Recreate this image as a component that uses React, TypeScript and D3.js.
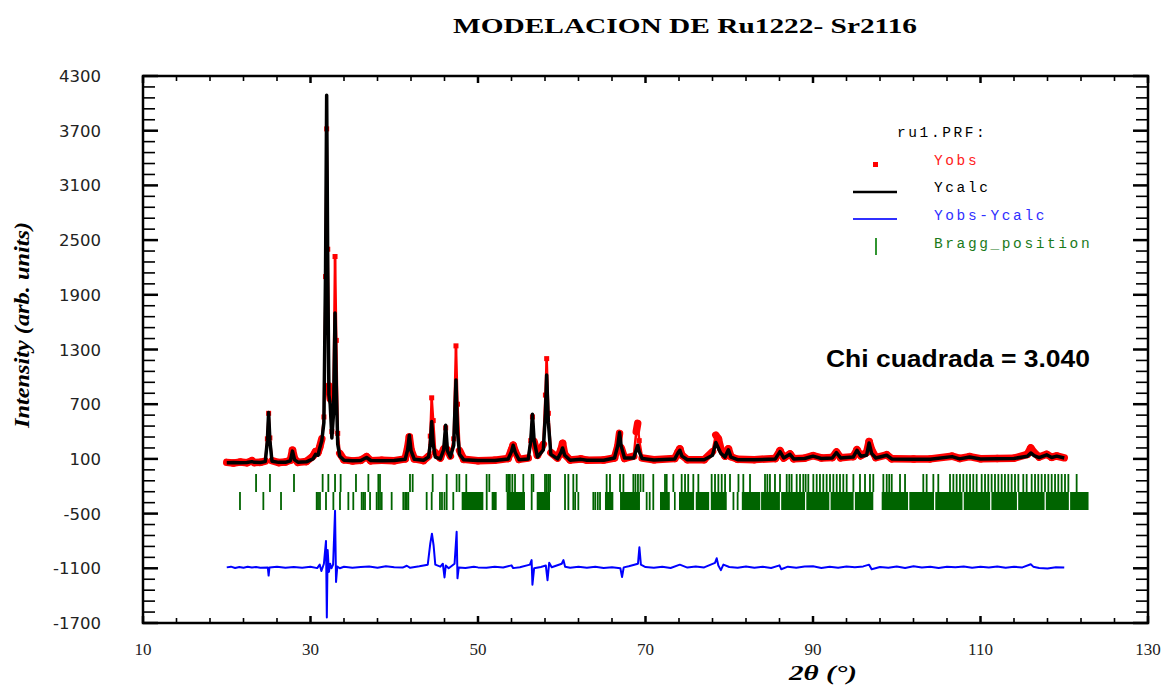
import React from "react";
import * as d3 from "d3";

// ---------- data ----------
const profileTheta = [20.0,20.8,21.6,22.4,23.0,23.3,24.0,24.6,24.85,25.0,25.15,25.4,26.2,27.0,27.6,27.85,28.1,28.5,29.5,30.3,30.6,30.9,31.1,31.35,31.6,31.8,31.93,32.06,32.2,32.35,32.55,32.75,32.93,33.08,33.25,33.5,34.0,35.0,36.0,36.7,37.2,38.5,40.0,41.3,41.6,41.8,42.0,42.4,43.5,44.1,44.3,44.47,44.65,44.9,45.5,45.9,46.14,46.35,46.7,47.1,47.37,47.55,47.8,48.3,50.0,52.0,53.6,54.0,54.2,54.45,54.9,56.0,56.3,56.5,56.7,57.1,57.8,58.05,58.2,58.4,58.7,59.5,59.9,60.1,60.35,61.0,62.3,63.0,65.0,66.3,66.7,66.9,67.1,67.5,68.6,68.9,69.07,69.25,69.6,71.0,73.5,73.9,74.1,74.35,75.0,77.0,78.0,78.4,78.7,79.0,79.5,79.9,80.2,81.0,83.0,85.5,86.06,86.5,87.25,87.7,89.0,90.0,91.0,92.3,92.8,93.3,94.8,95.25,95.7,96.4,96.7,97.0,97.5,98.8,99.4,102.0,104.0,106.6,107.5,108.7,110.0,112.0,114.0,115.6,116.0,116.4,117.0,117.9,118.5,119.1,120.0];
const yCalc = [58,60,58,60,70,62,60,70,300,610,300,75,62,62,80,185,90,64,68,100,150,140,220,300,500,2200,4090,2200,800,700,330,600,1700,900,260,130,85,80,82,115,82,80,82,95,200,360,190,95,85,120,260,510,260,120,100,200,470,190,120,250,965,400,150,90,82,82,100,180,250,170,90,100,300,590,300,120,200,600,1020,500,150,100,170,220,140,85,95,85,85,110,250,390,240,110,110,200,250,180,105,88,100,170,195,130,90,90,140,280,220,160,120,200,120,92,90,100,180,110,150,100,105,130,105,110,170,110,120,195,130,140,275,160,110,140,100,95,95,125,100,120,100,102,105,130,165,135,115,145,115,130,110];
const yObs = [62,55,65,58,80,60,62,75,320,600,330,80,60,66,85,195,100,62,72,130,180,170,230,320,560,2100,3720,2400,900,760,400,800,2320,1400,380,160,90,78,85,125,80,85,80,100,220,340,200,100,82,130,350,770,520,170,110,210,440,200,130,320,1340,700,190,95,80,86,105,200,250,180,95,110,300,560,290,140,260,800,1200,600,170,110,200,270,150,88,100,86,88,110,240,380,220,105,130,400,490,300,110,90,105,180,210,140,92,92,180,360,320,210,130,210,125,95,92,105,190,110,155,102,108,135,110,115,175,112,125,200,135,170,290,200,115,145,102,98,100,130,105,125,102,105,108,150,220,170,120,150,118,132,112];

const diffTheta = [20,20.5,21,21.5,22,22.5,23,23.5,24,24.9,25.0,25.1,26,27,28,29,30,30.8,31.1,31.3,31.6,31.85,31.95,32.05,32.2,32.35,32.5,32.7,32.93,33.05,33.2,33.5,34,35,36,37,38,39,40,41,41.5,41.9,43,44.0,44.3,44.5,44.7,44.9,45.5,45.8,46.0,46.15,46.5,47.2,47.45,47.55,47.7,48.5,49.5,50,51,52,53,54,54.2,55,56.2,56.4,56.5,56.7,57.5,58.1,58.3,58.5,58.8,60,60.2,60.4,61,62,63,64,65,66,67.0,67.2,67.4,68,69.1,69.27,69.45,70,71,72,73,74.1,75,76,77,78.3,78.5,78.7,79.0,79.3,80,81,82,83,84,85,86.0,86.2,87,88,89,90,91,92,93,94,95,96,96.7,97.0,98,99,100,101,102,103,104,105,106,107,108,109,110,111,112,113,114,115,116.0,116.3,117,118,119,120];
const diffValues = [-1090,-1082,-1096,-1086,-1094,-1084,-1092,-1085,-1093,-1090,-1180,-1090,-1083,-1094,-1086,-1095,-1084,-1098,-1060,-1130,-1050,-800,-1640,-900,-1140,-1050,-1100,-1060,-470,-1250,-1080,-1100,-1083,-1094,-1086,-1080,-1094,-1078,-1088,-1092,-1072,-1095,-1078,-1060,-830,-720,-850,-1060,-1082,-1050,-1200,-1070,-1100,-1050,-700,-1210,-1090,-1097,-1082,-1090,-1095,-1083,-1092,-1068,-1098,-1088,-1060,-1010,-1280,-1100,-1085,-1070,-1230,-1040,-1088,-1050,-1010,-1082,-1094,-1084,-1093,-1082,-1096,-1088,-1100,-1195,-1090,-1078,-1050,-870,-1060,-1086,-1094,-1082,-1096,-1060,-1092,-1080,-1090,-1040,-990,-1070,-1120,-1060,-1086,-1095,-1081,-1093,-1084,-1096,-1068,-1110,-1082,-1093,-1080,-1078,-1096,-1084,-1094,-1081,-1088,-1079,-1060,-1110,-1085,-1094,-1080,-1096,-1078,-1092,-1084,-1097,-1083,-1089,-1081,-1095,-1084,-1092,-1080,-1094,-1083,-1090,-1055,-1082,-1096,-1102,-1088,-1092];

const braggRow1 = [23.5,25.16,28.03,31.45,32.13,32.93,33.6,35.43,36.91,38.1,38.3,41.88,42.2,44.59,46.26,47.45,47.77,48.6,51.04,51.35,53.42,53.6,53.8,54.1,54.42,55.41,56.41,56.61,58.0,58.2,58.4,58.6,60.39,60.79,61.38,61.78,65.36,65.76,66.96,67.36,68.55,68.8,69.1,69.4,69.74,70.93,72.33,72.53,73.32,74.32,74.72,75.1,75.71,76.31,77.9,78.3,78.7,79.1,79.5,80.09,81.1,81.68,82.48,84.27,84.55,84.86,85.46,86.06,86.86,87.17,87.45,88.05,88.45,88.84,89.12,89.44,90.04,90.44,90.83,91.23,91.63,92.03,92.43,92.83,93.22,93.62,94.02,94.82,95.61,96.21,96.8,97.2,98.4,98.8,99.1,99.4,100.39,100.99,103.17,103.57,104.37,104.96,106.36,106.76,107.15,107.55,107.95,108.35,108.75,109.14,109.54,110.14,110.54,110.93,111.33,111.73,112.13,112.53,112.92,113.32,113.72,114.12,114.52,115.11,115.51,116.11,116.51,116.9,117.3,117.7,118.1,118.5,118.9,119.29,119.69,120.09,120.49,121.48];
const braggRow2 = [21.58,24.37,26.48,30.74,30.9,31.13,31.85,32.73,33.52,34.52,35.11,36.11,36.3,36.51,37.11,37.9,38.1,38.3,38.5,39.69,41.08,41.3,41.5,41.68,43.87,44.47,45.46,45.7,46.0,46.26,47.05,51.04,56.41,60.39,60.79,61.38,61.6,61.98,63.77,64.0,64.3,64.57,70.14,70.5,70.93,80.5,81.0];
const braggBandStart = [48.05,51.63,53.42,57.01,65.16,66.96,71.73,73.4,74.0,76.0,77.8,81.5,83.8,86.2,89.2,92.1,95.0,98.2,101.5,104.6,108.0,111.3,114.5,117.8,120.7];
const braggBandEnd = [50.64,52.23,55.61,58.6,66.16,69.34,72.9,73.6,75.8,77.6,79.7,83.7,86.05,89.05,91.95,94.85,97.2,101.35,104.45,107.85,111.15,114.35,117.65,120.55,122.9];

const yTickValues = [4300,3700,3100,2500,1900,1300,700,100,-500,-1100,-1700];
const xTickValues = [10,30,50,70,90,110,130];

// ---------- layout ----------
const W = 1163, H = 687;
const L = 143, R = 1148, T = 76, B = 623;

export default function App() {
  const x = d3.scaleLinear().domain([10, 130]).range([L, R]);
  const y = d3.scaleLinear().domain([-1700, 4300]).range([B, T]);

  const line = d3.line<[number, number]>().x(d => x(d[0])).y(d => y(d[1]));
  const calcPts = profileTheta.map((t, i) => [t, yCalc[i]] as [number, number]);
  const diffPts = diffTheta.map((t, i) => [t, diffValues[i]] as [number, number]);

  const yMinor = d3.range(4300, -1701, -120);
  const xMinor = d3.range(10, 130.01, 4);
  const green = "#006400";
  const red = "#ff0000";

  // observed: thick band where slowly varying, dots where steep
  const obsSegs = profileTheta.slice(0, -1).map((t, i) => {
    const x1 = x(t), y1 = y(yObs[i]), x2 = x(profileTheta[i + 1]), y2 = y(yObs[i + 1]);
    const steep = Math.abs(y2 - y1) > 14;
    return { x1, y1, x2, y2, steep };
  });

  return (
    <svg width={W} height={H} style={{ display: "block", position: "absolute", left: 0, top: 0, background: "#fff" }}>
      <text x={685} y={33} textAnchor="middle" fontFamily="'Liberation Serif', serif" fontWeight="bold" fontSize={22} textLength={464} lengthAdjust="spacingAndGlyphs">MODELACION DE Ru1222- Sr2116</text>

      {/* Bragg rows */}
      {braggRow1.map((t, i) => (
        <line key={"b1" + i} x1={x(t)} x2={x(t)} y1={474} y2={492} stroke={green} strokeWidth={1.8} />
      ))}
      {braggRow2.map((t, i) => (
        <line key={"b2" + i} x1={x(t)} x2={x(t)} y1={492} y2={510} stroke={green} strokeWidth={1.8} />
      ))}
      {braggBandStart.map((s, i) => (
        <rect key={"bb" + i} x={x(s)} y={492} width={x(braggBandEnd[i]) - x(s)} height={18} fill={green} />
      ))}

      {/* observed */}
      {obsSegs.map((s, i) => (
        <line key={"os" + i} x1={s.x1} y1={s.y1} x2={s.x2} y2={s.y2} stroke={red} strokeWidth={s.steep ? 2.5 : 7.5} strokeLinecap="round" />
      ))}
      {profileTheta.map((t, i) => (
        <rect key={"od" + i} x={x(t) - 2.5} y={y(yObs[i]) - 2.5} width={5} height={5} fill={red} />
      ))}
      <path d={line(calcPts) || ""} fill="none" stroke="#000" strokeWidth={3.5} strokeLinejoin="round" />
      <path d={line(diffPts) || ""} fill="none" stroke="#0000ff" strokeWidth={2} strokeLinejoin="round" />

      {/* frame */}
      <rect x={L} y={T} width={R - L} height={B - T} fill="none" stroke="#000" strokeWidth={2.5} />
      {yMinor.map((v, i) => {
        const major = i % 5 === 0;
        const len = major ? 15 : 12;
        return (
          <g key={"yt" + i}>
            <line x1={L} x2={L + len} y1={y(v)} y2={y(v)} stroke="#000" strokeWidth={major ? 2.5 : 1.6} />
            <line x1={R} x2={R - len} y1={y(v)} y2={y(v)} stroke="#000" strokeWidth={major ? 2.5 : 1.6} />
          </g>
        );
      })}
      {xMinor.map((v, i) => {
        const major = i % 5 === 0;
        const len = major ? 7 : 5;
        return (
          <g key={"xt" + i}>
            <line x1={x(v)} x2={x(v)} y1={B} y2={B - len} stroke="#000" strokeWidth={major ? 2.5 : 1.6} />
            <line x1={x(v)} x2={x(v)} y1={T} y2={T + len} stroke="#000" strokeWidth={major ? 2.5 : 1.6} />
          </g>
        );
      })}

      {yTickValues.map(v => (
        <text key={"yl" + v} x={101} y={y(v) + 6} textAnchor="end" fontFamily="'DejaVu Sans', sans-serif" fontSize={16.5} fill="#222">{v}</text>
      ))}
      {xTickValues.map(v => (
        <text key={"xl" + v} x={x(v)} y={655} textAnchor="middle" fontFamily="'Liberation Serif', serif" fontSize={17} fill="#222">{v}</text>
      ))}

      <text transform="translate(29,325) rotate(-90)" textAnchor="middle" fontFamily="'Liberation Serif', serif" fontWeight="bold" fontStyle="italic" fontSize={21} textLength={206} lengthAdjust="spacingAndGlyphs">Intensity (arb. units)</text>
      <text x={823} y={680} textAnchor="middle" fontFamily="'Liberation Serif', serif" fontWeight="bold" fontStyle="italic" fontSize={20} textLength={68} lengthAdjust="spacingAndGlyphs">2θ (°)</text>

      {/* legend */}
      <g fontFamily="'Liberation Mono', monospace" fontSize={14.5} letterSpacing={2.6}>
        <text x={897} y={137} fill="#000">ru1.PRF:</text>
        <rect x={873} y={162} width={5} height={5} fill="#ff0000" />
        <text x={934} y={165} fill="#ff2020">Yobs</text>
        <line x1={853} x2={897} y1={192} y2={192} stroke="#000" strokeWidth={2.5} />
        <text x={934} y={192} fill="#000">Ycalc</text>
        <line x1={853} x2={897} y1={219} y2={219} stroke="#3030ff" strokeWidth={2} />
        <text x={934} y={220} fill="#3030ff">Yobs-Ycalc</text>
        <line x1={876} x2={876} y1={238} y2={255} stroke="#1a8a1a" strokeWidth={1.8} />
        <text x={934} y={248} fill="#1a7a1a">Bragg_position</text>
      </g>

      <text x={826} y={367} fontFamily="'Liberation Sans', Arial, sans-serif" fontWeight="bold" fontSize={24} textLength={264} lengthAdjust="spacingAndGlyphs">Chi cuadrada = 3.040</text>
    </svg>
  );
}
